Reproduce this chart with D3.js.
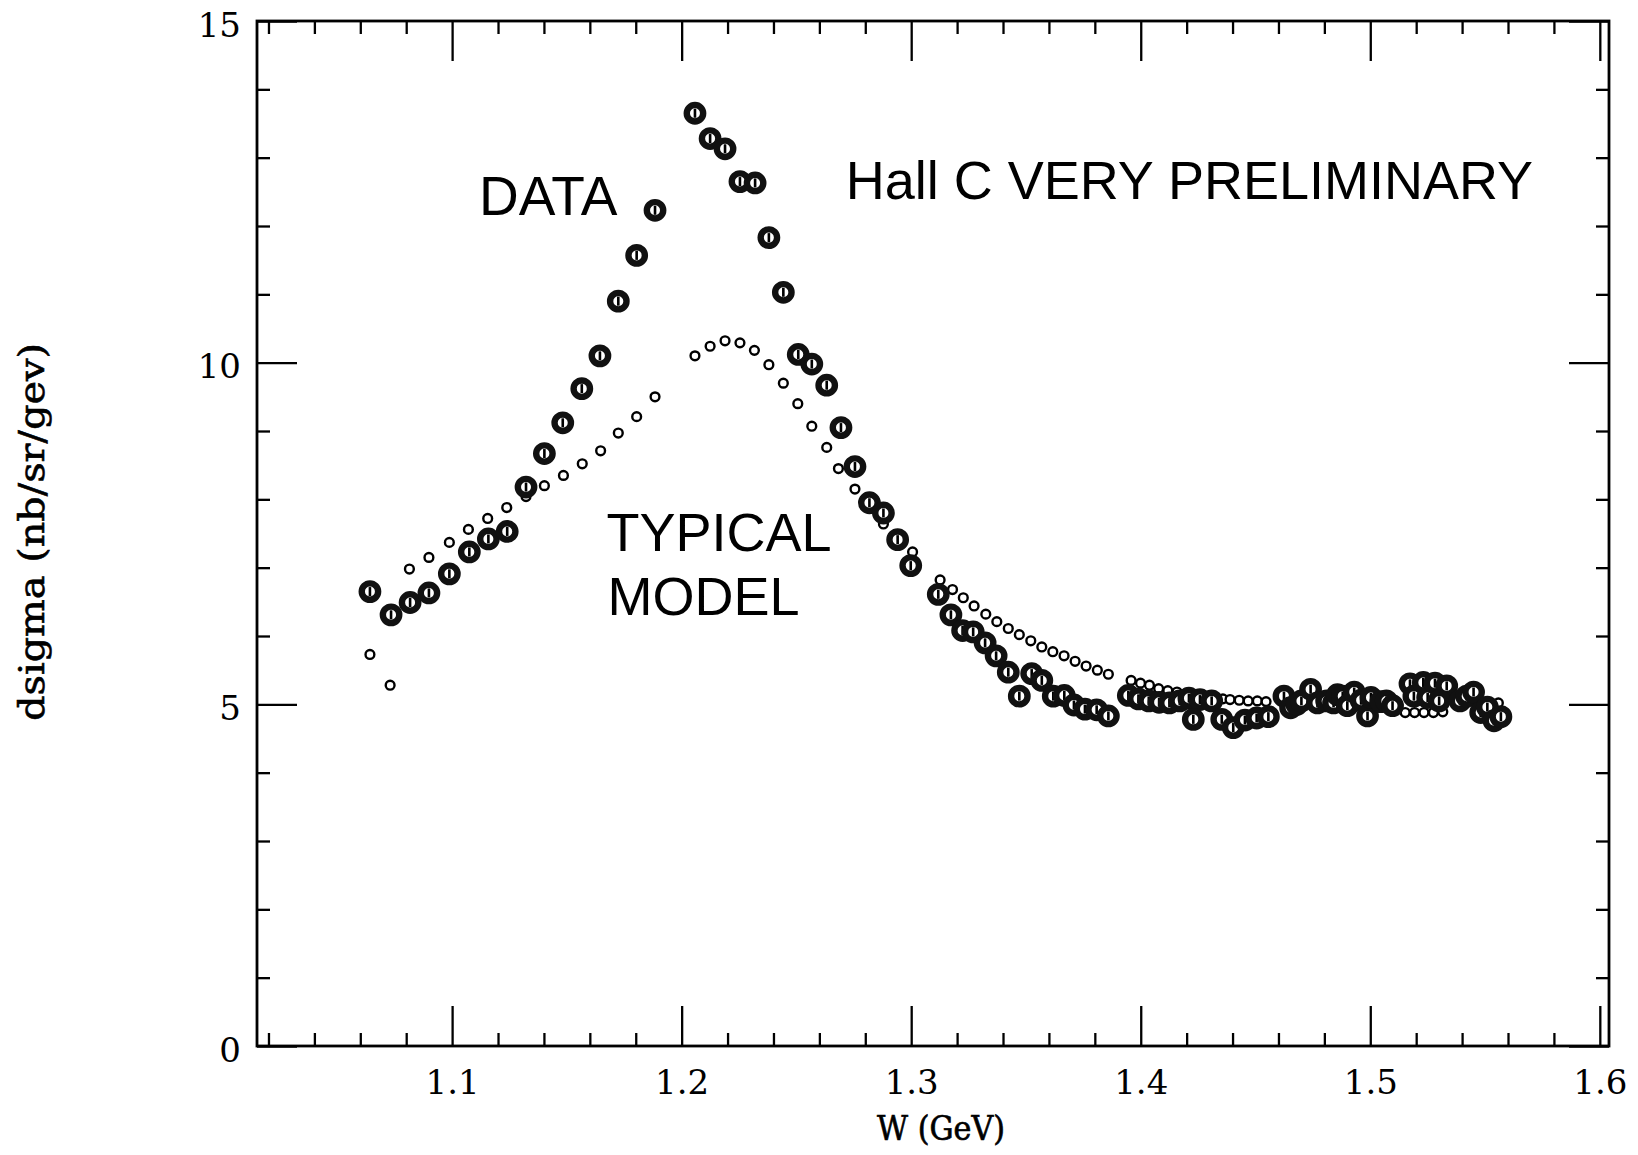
<!DOCTYPE html>
<html>
<head>
<meta charset="utf-8">
<title>dsigma vs W</title>
<script src="https://cdn.jsdelivr.net/npm/d3@7"></script>
<style>
  html, body { margin: 0; padding: 0; background: #ffffff; }
  svg { display: block; }
</style>
</head>
<body>
<svg id="chart" width="1638" height="1155"></svg>
<script>
// Measured cross section (large markers): W in GeV, dsigma in nb/sr/GeV
const wData = [
  1.0642, 1.0734, 1.0817, 1.0899, 1.0988, 1.1075, 1.1158, 1.1240, 1.1322, 1.1402,
  1.1482, 1.1565, 1.1644, 1.1724, 1.1804, 1.1884, 1.2058, 1.2124, 1.2189, 1.2254,
  1.2320, 1.2380, 1.2443, 1.2508, 1.2567, 1.2632, 1.2694, 1.2755, 1.2818, 1.2879,
  1.2941, 1.2998, 1.3118, 1.3173, 1.3224, 1.3270, 1.3322, 1.3370, 1.3423, 1.3471,
  1.3525, 1.3569, 1.3619, 1.3667, 1.3709, 1.3757, 1.3808, 1.3859,
  1.3946, 1.3990, 1.4035, 1.4080, 1.4125, 1.4170, 1.4210, 1.4258, 1.4309, 1.4229,
  1.4353, 1.4403, 1.4454, 1.4505, 1.4556,
  1.4624, 1.4653, 1.4680, 1.4700, 1.4740, 1.4770, 1.4810, 1.4840, 1.4857, 1.4880,
  1.4900, 1.4930, 1.4960, 1.4988, 1.5003, 1.5046, 1.5070, 1.5097,
  1.5173, 1.5190, 1.5231, 1.5250, 1.5282, 1.5333, 1.5300, 1.5391, 1.5420, 1.5450,
  1.5481, 1.5510, 1.5539, 1.5569
];
const sigmaData = [
  6.65, 6.31, 6.49, 6.63, 6.91, 7.23, 7.42, 7.53, 8.18, 8.67,
  9.12, 9.62, 10.10, 10.90, 11.57, 12.23, 13.65, 13.28, 13.13, 12.65,
  12.63, 11.83, 11.03, 10.12, 9.98, 9.67, 9.05, 8.48, 7.95, 7.80,
  7.41, 7.03, 6.61, 6.31, 6.08, 6.06, 5.90, 5.71, 5.47, 5.12,
  5.45, 5.35, 5.12, 5.13, 4.99, 4.93, 4.92, 4.83,
  5.13, 5.08, 5.05, 5.03, 5.02, 5.05, 5.09, 5.07, 5.05, 4.78,
  4.78, 4.66, 4.77, 4.80, 4.82,
  5.12, 4.95, 5.00, 5.05, 5.22, 5.02, 5.05, 5.02, 5.14, 5.12,
  4.98, 5.18, 5.06, 4.83, 5.10, 5.04, 5.05, 4.98,
  5.30, 5.12, 5.32, 5.10, 5.31, 5.27, 5.05, 5.05, 5.12, 5.18,
  4.88, 4.96, 4.76, 4.82
];

// Model calculation (small open markers)
const wModel = [
  1.0642, 1.0730, 1.0814, 1.0899, 1.0988, 1.1071, 1.1155, 1.1238, 1.1322, 1.1402,
  1.1485, 1.1567, 1.1647, 1.1724, 1.1804, 1.1884, 1.2058, 1.2124, 1.2189, 1.2254,
  1.2317, 1.2380, 1.2443, 1.2506, 1.2567, 1.2632, 1.2683, 1.2755, 1.2879, 1.3006,
  1.3126, 1.3180, 1.3227, 1.3274, 1.3325, 1.3373, 1.3423, 1.3471, 1.3521, 1.3569,
  1.3617, 1.3666, 1.3714, 1.3762, 1.3811, 1.3859,
  1.3958, 1.3999, 1.4038, 1.4078, 1.4118, 1.4158, 1.4198, 1.4238, 1.4278, 1.4318,
  1.4358, 1.4389, 1.4429, 1.4468, 1.4508, 1.4546,
  1.5152, 1.5193, 1.5234, 1.5275, 1.5316, 1.5558
];
const sigmaModel = [
  5.73, 5.28, 6.98, 7.15, 7.37, 7.56, 7.72, 7.88, 8.04, 8.20,
  8.35, 8.52, 8.71, 8.97, 9.21, 9.50, 10.10, 10.24, 10.32, 10.29,
  10.18, 9.97, 9.70, 9.40, 9.07, 8.76, 8.45, 8.15, 7.64, 7.23,
  6.82, 6.68, 6.56, 6.44, 6.32, 6.21, 6.11, 6.02, 5.93, 5.84,
  5.77, 5.71, 5.63, 5.56, 5.50, 5.44,
  5.35, 5.31, 5.28, 5.23, 5.20, 5.18, 5.16, 5.14, 5.12, 5.10,
  5.08, 5.07, 5.06, 5.05, 5.05, 5.04,
  4.88, 4.88, 4.88, 4.88, 4.89, 5.02
];

// Axis ticks
const xMajorTicks = [1.1, 1.2, 1.3, 1.4, 1.5, 1.6];
const xTickLabels = ["1.1", "1.2", "1.3", "1.4", "1.5", "1.6"];
const yMajorTicks = [0, 5, 10, 15];
const yTickLabels = ["0", "5", "10", "15"];

// Text annotations, anchored in data coordinates
const notes = [
  { text: "DATA", x: 1.1117, y: 12.16, size: 55 },
  { text: "Hall C VERY PRELIMINARY", x: 1.2715, y: 12.40, size: 54 },
  { text: "TYPICAL", x: 1.1673, y: 7.245, size: 54 },
  { text: "MODEL", x: 1.1677, y: 6.31, size: 54 }
];

const svg = d3.select("#chart");
const plotLeft = 257, plotRight = 1609, plotTop = 21, plotBottom = 1046;

const x = d3.scaleLinear().domain([1.015, 1.604]).range([plotLeft, plotRight]);
const y = d3.scaleLinear().domain([0, 15]).range([plotBottom, plotTop]);

const xMinor = d3.range(1.02, 1.601, 0.02).filter(v => Math.abs(Math.round(v * 10) - v * 10) > 1e-6);
const yMinor = d3.range(1, 15, 1).filter(v => v % 5 !== 0);

const MAJOR = 40, MINOR = 13;
const serif = "'DejaVu Serif', 'Liberation Serif', serif";

function styleAxis(g) {
  g.select(".domain").remove();
  g.selectAll(".tick line").attr("stroke", "#000").attr("stroke-width", 2.3);
}

// bottom axis
svg.append("g").attr("transform", `translate(0,${plotBottom})`)
  .call(d3.axisBottom(x).tickValues(xMinor).tickSize(-MINOR).tickFormat(""))
  .call(styleAxis);
const xb = svg.append("g").attr("transform", `translate(0,${plotBottom})`)
  .call(d3.axisBottom(x).tickValues(xMajorTicks).tickSize(-MAJOR).tickPadding(24)
    .tickFormat((d, i) => xTickLabels[i]))
  .call(styleAxis);
xb.selectAll(".tick text")
  .attr("font-family", serif)
  .attr("font-size", 34).attr("fill", "#000").attr("dy", "0.71em");

// top axis
svg.append("g").attr("transform", `translate(0,${plotTop})`)
  .call(d3.axisTop(x).tickValues(xMinor).tickSize(-MINOR).tickFormat(""))
  .call(styleAxis);
svg.append("g").attr("transform", `translate(0,${plotTop})`)
  .call(d3.axisTop(x).tickValues(xMajorTicks).tickSize(-MAJOR).tickFormat(""))
  .call(styleAxis);

// left axis
svg.append("g").attr("transform", `translate(${plotLeft},0)`)
  .call(d3.axisLeft(y).tickValues(yMinor).tickSize(-MINOR).tickFormat(""))
  .call(styleAxis);
const yl = svg.append("g").attr("transform", `translate(${plotLeft},0)`)
  .call(d3.axisLeft(y).tickValues(yMajorTicks).tickSize(-MAJOR).tickPadding(16)
    .tickFormat((d, i) => yTickLabels[i]))
  .call(styleAxis);
yl.selectAll(".tick text")
  .attr("font-family", serif)
  .attr("font-size", 34).attr("fill", "#000").attr("dy", "0.45em");

// right axis
svg.append("g").attr("transform", `translate(${plotRight},0)`)
  .call(d3.axisRight(y).tickValues(yMinor).tickSize(-MINOR).tickFormat(""))
  .call(styleAxis);
svg.append("g").attr("transform", `translate(${plotRight},0)`)
  .call(d3.axisRight(y).tickValues(yMajorTicks).tickSize(-MAJOR).tickFormat(""))
  .call(styleAxis);

// frame
svg.append("rect")
  .attr("x", plotLeft).attr("y", plotTop)
  .attr("width", plotRight - plotLeft).attr("height", plotBottom - plotTop)
  .attr("fill", "none").attr("stroke", "#000").attr("stroke-width", 2.8);

// axis titles
svg.append("text")
  .attr("x", (plotLeft + plotRight) / 2 + 8).attr("y", 1140)
  .attr("text-anchor", "middle")
  .attr("font-family", serif).attr("font-size", 34)
  .attr("stroke", "#000").attr("stroke-width", 0.7)
  .attr("textLength", 128).attr("lengthAdjust", "spacingAndGlyphs")
  .text("W (GeV)");

svg.append("text")
  .attr("transform", "translate(44,532) rotate(-90)")
  .attr("text-anchor", "middle")
  .attr("font-family", serif).attr("font-size", 36)
  .attr("stroke", "#000").attr("stroke-width", 0.6)
  .attr("textLength", 378).attr("lengthAdjust", "spacingAndGlyphs")
  .text("dsigma (nb/sr/gev)");

// model points
const model = wModel.map((w, i) => ({ w, s: sigmaModel[i] }));
svg.append("g").selectAll("circle").data(model).join("circle")
  .attr("cx", d => x(d.w)).attr("cy", d => y(d.s))
  .attr("r", 4.4)
  .attr("fill", "#fff").attr("stroke", "#000").attr("stroke-width", 2.4);

// data points: heavy ring with an error bar inside
const data = wData.map((w, i) => ({ w, s: sigmaData[i] }));
const dg = svg.append("g").selectAll("g").data(data).join("g")
  .attr("transform", d => `translate(${x(d.w)},${y(d.s)})`);
dg.append("circle").attr("r", 8.2)
  .attr("fill", "#fff").attr("stroke", "#111").attr("stroke-width", 6.4);
dg.append("rect").attr("x", -1.3).attr("y", -4.5).attr("width", 2.6).attr("height", 9)
  .attr("fill", "#000");

// annotations
svg.append("g").selectAll("text").data(notes).join("text")
  .attr("x", d => x(d.x)).attr("y", d => y(d.y))
  .attr("font-family", "'Liberation Sans', Arial, sans-serif")
  .attr("font-size", d => d.size).attr("fill", "#000")
  .text(d => d.text);
</script>
</body>
</html>
